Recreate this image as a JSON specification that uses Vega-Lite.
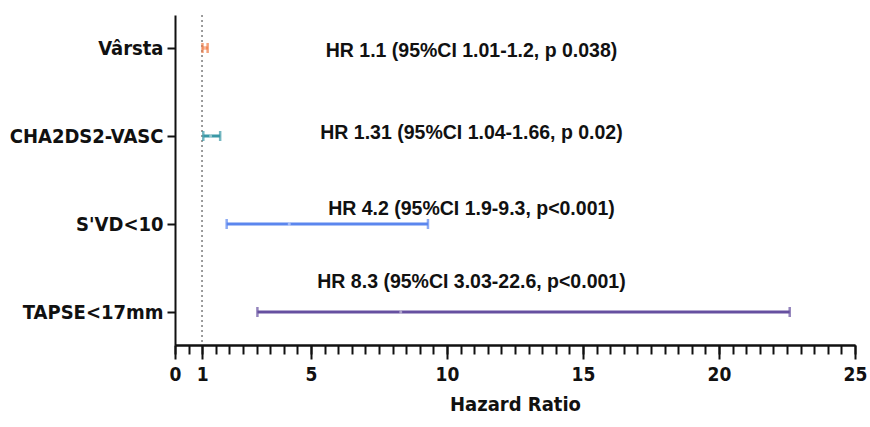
{
  "$schema": "https://vega.github.io/schema/vega-lite/v6.json",
  "autosize": {"type": "none"},
  "width": 680,
  "height": 330,
  "padding": {"left": 175, "top": 15, "right": 15, "bottom": 82},
  "background": "white",
  "config": {
    "view": {"stroke": null},
    "axis": {
      "domainColor": "#111",
      "domainWidth": 2,
      "tickColor": "#111",
      "tickWidth": 2,
      "labelFont": "DejaVu Sans Condensed, sans-serif",
      "labelFontWeight": "bold",
      "labelColor": "#111",
      "titleFont": "DejaVu Sans Condensed, sans-serif",
      "titleFontWeight": "bold",
      "titleColor": "#111",
      "grid": false
    }
  },
  "data": {
    "values": [
      {"var": "Vârsta", "hr": 1.1, "lo": 1.01, "hi": 1.2, "lift": -0.035, "label": "HR 1.1 (95%CI 1.01-1.2, p 0.038)"},
      {"var": "CHA2DS2-VASC", "hr": 1.31, "lo": 1.04, "hi": 1.66, "lift": 0.035, "label": "HR 1.31 (95%CI 1.04-1.66, p 0.02)"},
      {"var": "S'VD<10", "hr": 4.2, "lo": 1.9, "hi": 9.3, "lift": 0.17, "label": "HR 4.2 (95%CI 1.9-9.3, p<0.001)"},
      {"var": "TAPSE<17mm", "hr": 8.3, "lo": 3.03, "hi": 22.6, "lift": 0.34, "label": "HR 8.3 (95%CI 3.03-22.6, p<0.001)"}
    ]
  },
  "encoding": {
    "y": {
      "field": "var",
      "type": "nominal",
      "sort": null,
      "scale": {"type": "point", "padding": 0.375},
      "axis": {"title": null, "tickSize": 8, "labelPadding": 4, "labelFontSize": 20}
    }
  },
  "resolve": {"axis": {"x": "independent"}},
  "layer": [
    {
      "mark": {"type": "rule", "strokeWidth": 3},
      "encoding": {
        "x": {
          "field": "lo",
          "type": "quantitative",
          "scale": {"domain": [0, 25], "nice": false, "zero": false},
          "axis": {
            "orient": "bottom",
            "title": "Hazard Ratio",
            "titleFontSize": 20,
            "titlePadding": 10,
            "labelFontSize": 19,
            "labelPadding": 6,
            "labelOverlap": false,
            "labelFlush": false,
            "values": [0, 1, 5, 10, 15, 20, 25],
            "tickSize": 14
          }
        },
        "x2": {"field": "hi"},
        "color": {
          "field": "var",
          "type": "nominal",
          "scale": {"domain": ["Vârsta", "CHA2DS2-VASC", "S'VD<10", "TAPSE<17mm"], "range": ["#f07a45", "#3a98a6", "#5b86ee", "#6650a0"]},
          "legend": null
        }
      }
    },
    {
      "mark": {"type": "rule", "color": "#9a9a9a", "strokeDash": [2, 3], "strokeWidth": 1.5},
      "encoding": {
        "x": {
          "datum": 1,
          "type": "quantitative",
          "axis": {
            "orient": "bottom",
            "title": null,
            "labels": false,
            "tickSize": 9,
            "values": [0,0.5,1,1.5,2,2.5,3,3.5,4,4.5,5,5.5,6,6.5,7,7.5,8,8.5,9,9.5,10,10.5,11,11.5,12,12.5,13,13.5,14,14.5,15,15.5,16,16.5,17,17.5,18,18.5,19,19.5,20,20.5,21,21.5,22,22.5,23,23.5,24,24.5,25]
          }
        },
        "y": null
      }
    },
    {
      "mark": {"type": "tick", "thickness": 2.5, "size": 10, "orient": "vertical"},
      "encoding": {
        "x": {"field": "lo", "type": "quantitative", "axis": null},
        "color": {"field": "var", "type": "nominal", "legend": null}
      }
    },
    {
      "mark": {"type": "tick", "thickness": 2.5, "size": 10, "orient": "vertical"},
      "encoding": {
        "x": {"field": "hi", "type": "quantitative", "axis": null},
        "color": {"field": "var", "type": "nominal", "legend": null}
      }
    },
    {
      "mark": {"type": "point", "filled": true, "size": 10, "color": "#ffffff", "opacity": 0.45},
      "encoding": {
        "x": {"field": "hr", "type": "quantitative", "axis": null}
      }
    },
    {
      "mark": {"type": "text", "font": "Liberation Sans, Arial, sans-serif", "fontWeight": "bold", "fontSize": 19.5, "color": "#111", "align": "center", "baseline": "middle"},
      "encoding": {
        "x": {"datum": 10.9, "type": "quantitative", "axis": null},
        "yOffset": {"field": "lift", "type": "quantitative", "scale": {"domain": [0, 1], "range": [0, -88]}},
        "text": {"field": "label"}
      }
    }
  ]
}
